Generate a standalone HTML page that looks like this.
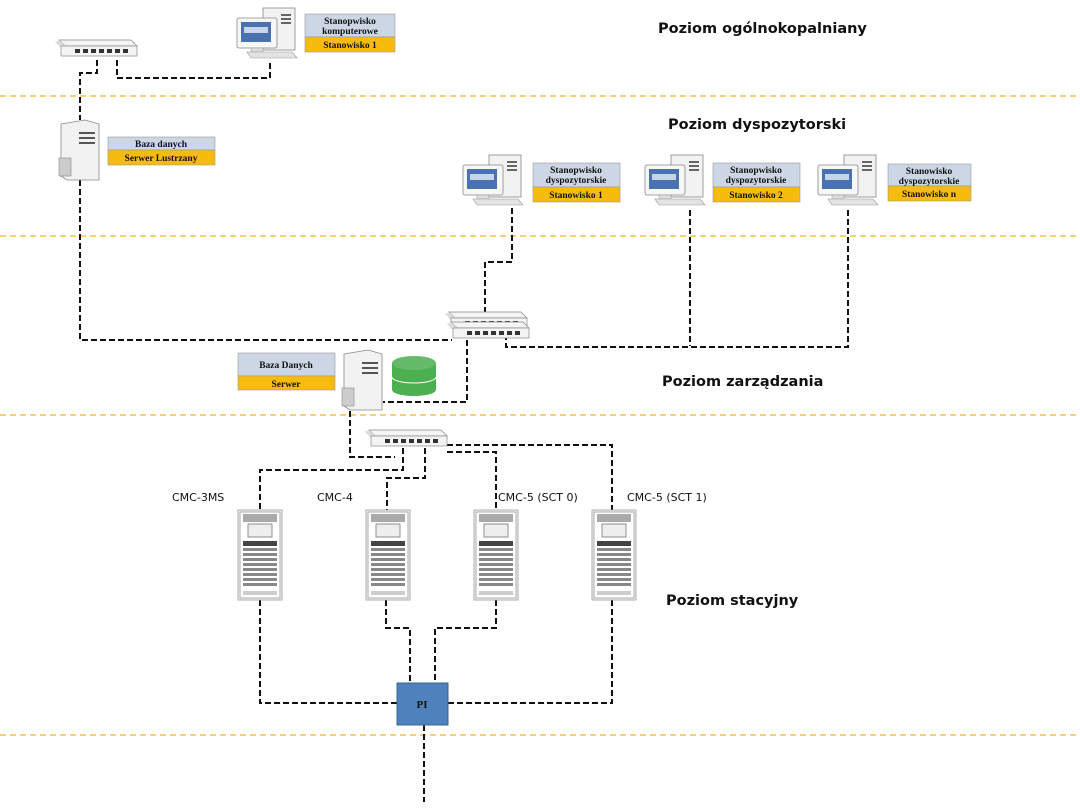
<!DOCTYPE html>
<html><head><meta charset="utf-8"><style>
html,body{margin:0;padding:0;background:#fff;}
svg{display:block;}
text{font-family:"Liberation Serif",serif;font-weight:bold;}
.lvl{font-family:"DejaVu Sans","Liberation Sans",sans-serif;font-size:14.5px;font-weight:bold;fill:#111;}
.cmc{font-family:"DejaVu Sans","Liberation Sans",sans-serif;font-size:11px;font-weight:normal;fill:#111;}
.lb{font-size:9.5px;fill:#111;}
</style></head><body>
<svg width="1080" height="810" viewBox="0 0 1080 810" xmlns="http://www.w3.org/2000/svg">
<defs>
<g id="pc">
  <rect x="26" y="0" width="32" height="42" fill="#f2f2f2" stroke="#888" stroke-width="0.8"/>
  <rect x="44" y="6" width="10" height="2" fill="#666"/><rect x="44" y="10" width="10" height="2" fill="#666"/><rect x="44" y="14" width="10" height="2" fill="#666"/>
  <rect x="0" y="10" width="40" height="30" rx="2" fill="#f7f7f7" stroke="#888" stroke-width="0.8"/>
  <rect x="4" y="14" width="30" height="20" fill="#4a72b0"/>
  <rect x="7" y="19" width="24" height="6" fill="#c8d4ea"/>
  <rect x="14" y="40" width="12" height="4" fill="#ddd" stroke="#999" stroke-width="0.5"/>
  <polygon points="10,44 55,44 60,50 14,50" fill="#e3e3e3" stroke="#999" stroke-width="0.6"/>
</g>
<g id="sw">
  <polygon points="4,0 76,0 82,6 10,6" fill="#f4f4f4" stroke="#888" stroke-width="0.7"/>
  <polygon points="0,2 4,0 10,6 6,8" fill="#ddd"/>
  <rect x="6" y="6" width="76" height="10" fill="#f4f4f4" stroke="#888" stroke-width="0.7"/>
  <g fill="#333"><rect x="20" y="9" width="5" height="4"/><rect x="28" y="9" width="5" height="4"/><rect x="36" y="9" width="5" height="4"/><rect x="44" y="9" width="5" height="4"/><rect x="52" y="9" width="5" height="4"/><rect x="60" y="9" width="5" height="4"/><rect x="68" y="9" width="5" height="4"/></g>
</g>
<g id="srv">
  <path d="M4,4 L28,0 L42,4 L42,60 L10,60 L4,56 Z" fill="#f2f2f2" stroke="#888" stroke-width="0.8"/>
  <rect x="22" y="12" width="16" height="2" fill="#555"/><rect x="22" y="17" width="16" height="2" fill="#555"/><rect x="22" y="22" width="16" height="2" fill="#555"/>
  <rect x="2" y="38" width="12" height="18" fill="#ccc" stroke="#888" stroke-width="0.6"/>
</g>
<g id="rack">
  <rect x="0" y="0" width="44" height="90" fill="#f3f3f3" stroke="#999" stroke-width="0.8"/>
  <rect x="2" y="2" width="40" height="86" fill="#fff" stroke="#777" stroke-width="0.6"/>
  <rect x="5" y="4" width="34" height="8" fill="#aaa"/>
  <rect x="10" y="14" width="24" height="13" fill="#eee" stroke="#777" stroke-width="0.8"/>
  <rect x="5" y="31" width="34" height="5" fill="#444"/>
  <g fill="#888"><rect x="5" y="38" width="34" height="3"/><rect x="5" y="43" width="34" height="3"/><rect x="5" y="48" width="34" height="3"/><rect x="5" y="53" width="34" height="3"/><rect x="5" y="58" width="34" height="3"/><rect x="5" y="63" width="34" height="3"/><rect x="5" y="68" width="34" height="3"/><rect x="5" y="73" width="34" height="3"/></g>
  <rect x="5" y="81" width="34" height="4" fill="#ccc"/>
</g>
</defs>

<g stroke="#f5b51e" stroke-width="1.3" stroke-dasharray="6,4">
  <line x1="0" y1="96" x2="1080" y2="96"/><line x1="0" y1="236" x2="1080" y2="236"/>
  <line x1="0" y1="415" x2="1080" y2="415"/><line x1="0" y1="735" x2="1080" y2="735"/>
</g>

<g fill="none" stroke="#111" stroke-width="2" stroke-dasharray="6,3">
  <polyline points="97,60 97,73 80,73 80,120"/>
  <polyline points="117,60 117,78 270,78 270,60"/>
  <polyline points="80,180 80,340 452,340"/>
  <polyline points="512,208 512,262 485,262 485,312"/>
  <line x1="690" y1="210" x2="690" y2="346"/>
  <polyline points="848,210 848,347 506,347 506,338"/>
  <polyline points="467,340 467,402 383,402"/>
  <polyline points="350,402 350,457 395,457"/>
  <polyline points="403,448 403,470 260,470 260,510"/>
  <polyline points="425,448 425,478 387,478 387,510"/>
  <polyline points="447,452 496,452 496,510"/>
  <polyline points="447,445 612,445 612,510"/>
  <polyline points="260,600 260,703 397,703"/>
  <polyline points="386,600 386,628 410,628 410,683"/>
  <polyline points="496,600 496,628 435,628 435,683"/>
  <polyline points="612,600 612,703 448,703"/>
  <line x1="424" y1="725" x2="424" y2="802"/>
</g>

<use href="#sw" x="55" y="40"/>
<use href="#pc" x="237" y="8"/>
<rect x="305" y="14" width="90" height="23" fill="#ccd6e4" stroke="#999" stroke-width="0.6"/>
<rect x="305" y="37" width="90" height="15" fill="#f7bb0e" stroke="#999" stroke-width="0.6"/>
<text class="lb" x="350" y="24" text-anchor="middle" font-size="8.5">Stanopwisko</text>
<text class="lb" x="350" y="34" text-anchor="middle">komputerowe</text>
<text class="lb" x="350" y="48" text-anchor="middle">Stanowisko 1</text>

<use href="#srv" x="57" y="120"/>
<rect x="108" y="137" width="107" height="13" fill="#ccd6e4" stroke="#999" stroke-width="0.6"/>
<rect x="108" y="150" width="107" height="15" fill="#f7bb0e" stroke="#999" stroke-width="0.6"/>
<text class="lb" x="161" y="147" text-anchor="middle">Baza danych</text>
<text class="lb" x="161" y="161" text-anchor="middle">Serwer Lustrzany</text>

<use href="#pc" x="463" y="155"/>
<use href="#pc" x="645" y="155"/>
<use href="#pc" x="818" y="155"/>
<g>
<rect x="533" y="163" width="87" height="24" fill="#ccd6e4" stroke="#999" stroke-width="0.6"/>
<rect x="533" y="187" width="87" height="15" fill="#f7bb0e" stroke="#999" stroke-width="0.6"/>
<text class="lb" x="576" y="173" text-anchor="middle">Stanopwisko</text>
<text class="lb" x="576" y="183" text-anchor="middle">dyspozytorskie</text>
<text class="lb" x="576" y="198" text-anchor="middle">Stanowisko 1</text>
<rect x="713" y="163" width="87" height="24" fill="#ccd6e4" stroke="#999" stroke-width="0.6"/>
<rect x="713" y="187" width="87" height="15" fill="#f7bb0e" stroke="#999" stroke-width="0.6"/>
<text class="lb" x="756" y="173" text-anchor="middle">Stanopwisko</text>
<text class="lb" x="756" y="183" text-anchor="middle">dyspozytorskie</text>
<text class="lb" x="756" y="198" text-anchor="middle">Stanowisko 2</text>
<rect x="888" y="164" width="83" height="22" fill="#ccd6e4" stroke="#999" stroke-width="0.6"/>
<rect x="888" y="186" width="83" height="15" fill="#f7bb0e" stroke="#999" stroke-width="0.6"/>
<text class="lb" x="929" y="174" text-anchor="middle">Stanowisko</text>
<text class="lb" x="929" y="184" text-anchor="middle">dyspozytorskie</text>
<text class="lb" x="929" y="197" text-anchor="middle">Stanowisko n</text>
</g>

<use href="#sw" x="445" y="312"/>
<use href="#sw" x="447" y="322"/>

<rect x="238" y="353" width="97" height="23" fill="#ccd6e4" stroke="#999" stroke-width="0.6"/>
<rect x="238" y="376" width="97" height="14" fill="#f7bb0e" stroke="#999" stroke-width="0.6"/>
<text class="lb" x="286" y="368" text-anchor="middle">Baza Danych</text>
<text class="lb" x="286" y="387" text-anchor="middle">Serwer</text>
<use href="#srv" x="340" y="350"/>
<g>
<path d="M392,363 L392,390 A22,6 0 0 0 436,390 L436,363 Z" fill="#4caf50"/>
<ellipse cx="414" cy="363" rx="22" ry="7" fill="#66bb6a"/>
<path d="M392,377 A22,6 0 0 0 436,377" fill="none" stroke="#fff" stroke-width="1"/>
</g>

<use href="#sw" x="365" y="430"/>

<text class="cmc" x="172" y="501">CMC-3MS</text>
<text class="cmc" x="317" y="501">CMC-4</text>
<text class="cmc" x="498" y="501">CMC-5 (SCT 0)</text>
<text class="cmc" x="627" y="501">CMC-5 (SCT 1)</text>
<use href="#rack" x="238" y="510"/>
<use href="#rack" x="366" y="510"/>
<use href="#rack" x="474" y="510"/>
<use href="#rack" x="592" y="510"/>

<rect x="397" y="683" width="51" height="42" fill="#4f81bd" stroke="#3a6496" stroke-width="1"/>
<text x="422" y="708" text-anchor="middle" font-size="11" fill="#111">PI</text>

<text class="lvl" x="658" y="33">Poziom ogólnokopalniany</text>
<text class="lvl" x="668" y="129">Poziom dyspozytorski</text>
<text class="lvl" x="662" y="386">Poziom zarządzania</text>
<text class="lvl" x="666" y="605">Poziom stacyjny</text>
</svg>
</body></html>
